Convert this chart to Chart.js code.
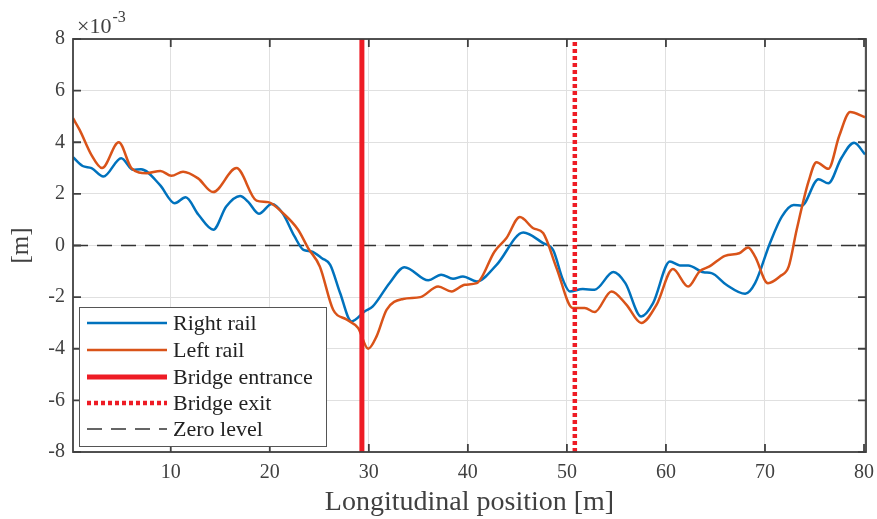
<!DOCTYPE html>
<html>
<head>
<meta charset="utf-8">
<script src="https://cdn.jsdelivr.net/npm/chart.js@4.4.1/dist/chart.umd.min.js"></script>
<style>
  html, body { margin: 0; padding: 0; background: #fff; }
  #wrap { width: 877px; height: 519px; }
</style>
</head>
<body>
<div id="wrap"><canvas id="c"></canvas></div>
<script>
// data (y in units of 1e-3 m)
const rightX = [0.13, 1.1, 2.0, 3.2, 5.0, 6.2, 7.0, 8.9, 10.4, 11.5, 12.8, 14.3, 15.6, 17.0, 17.8, 18.9, 20.2, 21.3, 22.5, 23.4, 24.2, 25.3, 26.1, 27.1, 28.25, 29.6, 30.4, 32.1, 33.6, 36.0, 37.3, 38.5, 39.5, 40.9, 42.9, 45.6, 47.6, 48.6, 49.6, 50.3, 51.6, 52.8, 54.7, 55.9, 57.5, 58.7, 60.4, 61.4, 62.25, 63.8, 64.6, 66.1, 68.0, 69.0, 70.5, 71.7, 72.9, 73.7, 75.4, 76.4, 77.7, 79.0, 80.1];
const rightY = [3.42, 3.08, 3.0, 2.67, 3.38, 2.93, 2.95, 2.35, 1.64, 1.87, 1.19, 0.61, 1.51, 1.92, 1.7, 1.23, 1.61, 1.25, 0.35, -0.17, -0.23, -0.5, -0.75, -1.84, -2.94, -2.55, -2.36, -1.45, -0.84, -1.35, -1.13, -1.29, -1.2, -1.39, -0.75, 0.5, 0.09, -0.17, -1.33, -1.78, -1.69, -1.71, -1.03, -1.46, -2.75, -2.23, -0.62, -0.77, -0.77, -1.04, -1.07, -1.52, -1.87, -1.46, 0.09, 1.12, 1.57, 1.54, 2.57, 2.41, 3.38, 3.98, 3.53];

const leftX = [0.13, 0.8, 2.0, 3.06, 4.75, 6.03, 7.55, 8.96, 10.07, 11.24, 12.76, 14.27, 16.64, 18.66, 19.83, 21.34, 22.86, 23.87, 25.05, 26.4, 27.75, 28.92, 29.93, 30.78, 31.79, 33.46, 35.2, 37.0, 38.35, 39.7, 40.9, 42.7, 43.9, 45.25, 46.6, 47.6, 48.96, 50.6, 51.8, 52.8, 54.5, 56.0, 57.5, 59.06, 60.7, 62.25, 63.4, 64.4, 65.96, 67.4, 68.3, 69.0, 70.3, 71.5, 72.4, 73.2, 74.4, 75.2, 76.4, 77.5, 78.6, 80.1];
const leftY = [4.93, 4.48, 3.5, 3.0, 4.0, 3.0, 2.8, 2.89, 2.7, 2.86, 2.6, 2.07, 3.0, 1.74, 1.68, 1.25, 0.61, -0.1, -0.81, -2.49, -2.87, -3.2, -4.0, -3.52, -2.49, -2.07, -2.0, -1.59, -1.78, -1.52, -1.46, -0.23, 0.29, 1.1, 0.67, 0.48, -0.88, -2.42, -2.42, -2.58, -1.78, -2.29, -3.0, -2.29, -0.91, -1.59, -1.0, -0.81, -0.4, -0.3, -0.08, -0.43, -1.46, -1.2, -0.81, 0.61, 2.48, 3.23, 2.97, 4.25, 5.17, 4.97];

const bridgeEntrance = 29.3;
const bridgeExit = 50.8;
const xTicks = [10, 20, 30, 40, 50, 60, 70, 80];
const yTicks = [-8, -6, -4, -2, 0, 2, 4, 6, 8];
const legendLabels = ['Right rail', 'Left rail', 'Bridge entrance', 'Bridge exit', 'Zero level'];

const X_MIN = 0.13, X_MAX = 80.2;
const AXIS = '#404040';
const FONT = '"Liberation Serif", "Times New Roman", serif';

function pts(xs, ys) {
  return xs.map((x, i) => ({ x: x, y: ys[i] }));
}

// 枠・内向き目盛り・凡例・指数
const decor = {
  id: 'decor',
  afterDraw(chart) {
    const { ctx, chartArea: a, scales } = chart;
    ctx.save();
    ctx.strokeStyle = AXIS;
    ctx.lineWidth = 1.8;
    ctx.strokeRect(a.left, a.top, a.right - a.left, a.bottom - a.top);
    ctx.beginPath();
    xTicks.forEach(v => {
      const px = scales.x.getPixelForValue(v);
      ctx.moveTo(px, a.bottom); ctx.lineTo(px, a.bottom - 8);
      ctx.moveTo(px, a.top); ctx.lineTo(px, a.top + 8);
    });
    yTicks.forEach(v => {
      const py = scales.y.getPixelForValue(v);
      ctx.moveTo(a.left, py); ctx.lineTo(a.left + 8, py);
      ctx.moveTo(a.right, py); ctx.lineTo(a.right - 8, py);
    });
    ctx.stroke();

    // ×10^-3
    ctx.fillStyle = AXIS;
    ctx.textBaseline = 'alphabetic';
    ctx.textAlign = 'left';
    ctx.font = '22px ' + FONT;
    ctx.fillText('\u00d710', 77, 33);
    const w = ctx.measureText('\u00d710').width;
    ctx.font = '16px ' + FONT;
    ctx.fillText('-3', 77 + w + 1, 22);

    // legend
    const bx = 79.5, by = 307.5, bw = 247, bh = 139;
    ctx.fillStyle = '#fff';
    ctx.fillRect(bx, by, bw, bh);
    ctx.strokeStyle = '#555';
    ctx.lineWidth = 1;
    ctx.strokeRect(bx, by, bw, bh);
    const rows = [323, 350, 377, 403, 429];
    const styles = chart.data.datasets;
    ctx.font = '22px ' + FONT;
    ctx.textBaseline = 'middle';
    legendLabels.forEach((lab, i) => {
      const ds = styles[i];
      ctx.strokeStyle = ds.borderColor;
      ctx.lineWidth = ds.borderWidth;
      ctx.setLineDash(ds.borderDash || []);
      ctx.beginPath();
      ctx.moveTo(87, rows[i]);
      ctx.lineTo(167, rows[i]);
      ctx.stroke();
      ctx.setLineDash([]);
      ctx.fillStyle = '#222';
      ctx.fillText(lab, 173, rows[i] + 1);
    });
    ctx.restore();
  }
};

const chart = new Chart(document.getElementById('c'), {
  type: 'line',
  data: {
    datasets: [
      { label: legendLabels[0], data: pts(rightX, rightY), borderColor: '#0072BD', borderWidth: 2.5, pointRadius: 0, cubicInterpolationMode: 'monotone', order: 4 },
      { label: legendLabels[1], data: pts(leftX, leftY), borderColor: '#D95319', borderWidth: 2.5, pointRadius: 0, cubicInterpolationMode: 'monotone', order: 3 },
      { label: legendLabels[2], data: [{ x: bridgeEntrance, y: -8 }, { x: bridgeEntrance, y: 8 }], borderColor: '#EE1C25', borderWidth: 5, pointRadius: 0, order: 2 },
      { label: legendLabels[3], data: [{ x: bridgeExit, y: -8 }, { x: bridgeExit, y: 8 }], borderColor: '#EE1C25', borderWidth: 4.5, borderDash: [4, 3], pointRadius: 0, order: 1 },
      { label: legendLabels[4], data: [{ x: X_MIN, y: 0 }, { x: X_MAX, y: 0 }], borderColor: '#333', borderWidth: 1.3, borderDash: [15, 9], pointRadius: 0, order: 5 }
    ]
  },
  options: {
    responsive: true,
    maintainAspectRatio: false,
    animation: false,
    layout: { padding: { top: 39, right: 11, left: 0, bottom: 0 } },
    plugins: { legend: { display: false }, tooltip: { enabled: false } },
    scales: {
      x: {
        type: 'linear',
        min: X_MIN,
        max: X_MAX,
        afterBuildTicks: s => { s.ticks = xTicks.map(v => ({ value: v })); },
        afterFit: s => { s.height = 67; s.paddingLeft = 0; s.paddingRight = 0; },
        grid: { color: '#e0e0e0', lineWidth: 1, drawTicks: false },
        border: { display: false },
        ticks: { color: AXIS, font: { family: FONT, size: 20 }, padding: 9, maxRotation: 0 },
        title: { display: true, text: 'Longitudinal position [m]', color: AXIS, font: { family: FONT, size: 28 }, padding: { top: 0, bottom: 0 } }
      },
      y: {
        min: -8,
        max: 8,
        afterBuildTicks: s => { s.ticks = yTicks.map(v => ({ value: v })); },
        afterFit: s => { s.width = 73; s.paddingTop = 0; s.paddingBottom = 0; },
        grid: { color: '#e0e0e0', lineWidth: 1, drawTicks: false },
        border: { display: false },
        ticks: { color: AXIS, font: { family: FONT, size: 20 }, padding: 8 },
        title: { display: true, text: '[m]', color: AXIS, font: { family: FONT, size: 25 }, padding: { top: 6, bottom: 0 } }
      }
    }
  },
  plugins: [decor]
});
</script>
</body>
</html>
